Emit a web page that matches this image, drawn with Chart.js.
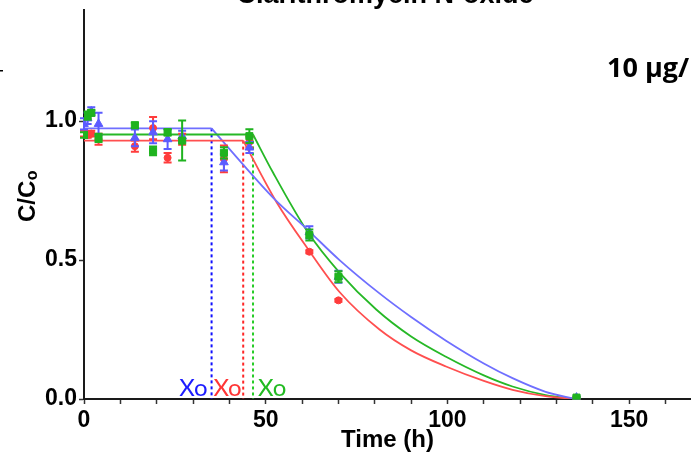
<!DOCTYPE html>
<html>
<head>
<meta charset="utf-8">
<script src="https://cdn.jsdelivr.net/npm/chart.js@4.4.0/dist/chart.umd.min.js"></script>
<style>
html, body { margin: 0; padding: 0; background: #fff; overflow: hidden; }
#bloqueGrafico { position: relative; width: 691px; height: 456px; }
</style>
</head>
<body>
<div id="bloqueGrafico"><canvas id="chartDegradacion"></canvas></div>
<script>
//Textos del grafico
var titulo = 'Clarithromycin N-oxide';
var concentracion = '10 µg/L';
var tituloEjeX = 'Time (h)';

//Tiempos de muestreo (h)
var tiempos = [0, 1, 2, 4, 14, 19, 23, 27, 38.5, 45.5, 62, 70, 135.5];

//Medias y desviaciones de C/Co de cada serie
var mediaAzul  = [0.99, 1.01, 1.035, 0.99, 0.94, 0.96, 0.935, 0.945, 0.852, 0.905, 0.60, 0.44, 0.005];
var errorAzul  = [0.02, 0.02, 0.015, 0.04, 0.03, 0.04, 0.035, 0.02, 0.03, 0.02, 0.022, 0.022, 0.004];
var mediaRoja  = [0.955, 0.95, 0.955, 0.935, 0.91, 0.975, 0.868, 0.935, 0.864, 0.925, 0.53, 0.355, 0.003];
var errorRoja  = [0.01, 0.01, 0.01, 0.02, 0.02, 0.04, 0.017, 0.02, 0.048, 0.02, 0.005, 0.005, 0.003];
var mediaVerde = [0.95, 1.02, 1.03, 0.94, 0.985, 0.893, 0.96, 0.93, 0.886, 0.946, 0.59, 0.44, 0.005];
var errorVerde = [0.01, 0.015, 0.01, 0.015, 0.01, 0.016, 0.012, 0.072, 0.02, 0.025, 0.02, 0.02, 0.004];

//Tiempo de latencia Xo y meseta de cada serie (azul, roja, verde)
var xo = [35.1, 43.8, 46.5];
var meseta = [0.974, 0.93, 0.952];

//Curvas ajustadas a partir de Xo
var curvaAzulT  = [35.1, 43, 52, 61.6, 70.3, 81.3, 90, 99.6, 110, 117.9, 127, 135.3];
var curvaAzulC  = [0.974, 0.855, 0.725, 0.608, 0.50, 0.38, 0.295, 0.21, 0.128, 0.075, 0.026, 0];
var curvaRojaT  = [43.8, 52.9, 61.6, 70.3, 81.3, 90, 99.6, 110, 117.9, 127, 135.3];
var curvaRojaC  = [0.93, 0.71, 0.54, 0.385, 0.25, 0.175, 0.117, 0.065, 0.033, 0.01, 0];
var curvaVerdeT = [46.5, 52, 61.6, 70.3, 80.4, 90, 99.6, 110, 117.9, 127, 135.3];
var curvaVerdeC = [0.952, 0.815, 0.60, 0.455, 0.322, 0.225, 0.152, 0.085, 0.045, 0.014, 0];

//Ticks del eje y
var ticksY = [0, 0.5, 1.0];

var colores = {
    azul:  { punto: '#5b5bff', linea: '#6f6fff', xo: '#1c1cff' },
    roja:  { punto: '#ff3c3c', linea: '#ff4f4f', xo: '#ff3535' },
    verde: { punto: '#1fb31f', linea: '#26b826', xo: '#22bb22' }
};
var fuenteEjes = '"Liberation Sans", Arial, sans-serif';

function unir(xs, ys){
    return xs.map(function(x, i){ return { x: x, y: ys[i] }; });
}

function serie(nombre, medias, errores, color, estilo, radio){
    return {
        type: 'scatter',
        label: nombre,
        data: unir(tiempos, medias),
        errores: errores,
        backgroundColor: color,
        borderColor: color,
        pointStyle: estilo,
        pointRadius: radio,
        pointHoverRadius: radio
    };
}

function curva(nombre, xs, ys, color){
    return {
        type: 'line',
        label: nombre,
        data: unir(xs, ys),
        borderColor: color,
        borderWidth: 1.8,
        pointRadius: 0,
        fill: false,
        cubicInterpolationMode: 'monotone'
    };
}

function punteada(nombre, i, color){
    return {
        type: 'line',
        label: nombre,
        data: [{ x: xo[i], y: meseta[i] }, { x: xo[i], y: 0 }],
        borderColor: color,
        borderWidth: 2,
        borderDash: [3, 3],
        pointRadius: 0,
        fill: false
    };
}

//Barras de error, titulos y etiquetas Xo
var anotaciones = {
    id: 'anotaciones',
    beforeDatasetDraw: function(chart, args){
        var ds = chart.data.datasets[args.index];
        if(!ds.errores) return;
        var ctx = chart.ctx, sx = chart.scales.x, sy = chart.scales.y;
        ctx.save();
        ctx.strokeStyle = ds.borderColor;
        ctx.lineWidth = 2;
        ds.data.forEach(function(p, i){
            var e = ds.errores[i];
            var px = sx.getPixelForValue(p.x);
            var y1 = sy.getPixelForValue(p.y + e);
            var y2 = sy.getPixelForValue(p.y - e);
            ctx.beginPath();
            ctx.moveTo(px, y1); ctx.lineTo(px, y2);
            ctx.moveTo(px - 4, y1); ctx.lineTo(px + 4, y1);
            ctx.moveTo(px - 4, y2); ctx.lineTo(px + 4, y2);
            ctx.stroke();
        });
        ctx.restore();
    },
    afterDraw: function(chart){
        var ctx = chart.ctx, sx = chart.scales.x;
        ctx.save();
        ctx.fillStyle = '#000';
        ctx.textBaseline = 'alphabetic';

        //Titulo superior
        ctx.font = 'bold 27px ' + fuenteEjes;
        ctx.textAlign = 'center';
        ctx.fillText(titulo, 385, 3);

        //Concentracion
        ctx.font = 'bold 27px "Open Sans", sans-serif';
        ctx.textAlign = 'left';
        ctx.fillText(concentracion, 607, 77);

        //Marca suelta del panel vecino
        ctx.fillRect(0, 70, 3, 1.5);

        //Etiquetas Xo junto a cada linea punteada
        ctx.font = '24px Lato, sans-serif';
        ctx.fillStyle = colores.azul.xo;
        ctx.textAlign = 'right';
        ctx.fillText('Xo', sx.getPixelForValue(xo[0]) - 4, 396);
        ctx.fillStyle = colores.roja.xo;
        ctx.fillText('Xo', sx.getPixelForValue(xo[1]) - 1.5, 396);
        ctx.fillStyle = colores.verde.xo;
        ctx.textAlign = 'left';
        ctx.fillText('Xo', sx.getPixelForValue(xo[2]) + 5, 396);

        //Titulo eje y con subindice
        ctx.fillStyle = '#000';
        ctx.translate(35, 222);
        ctx.rotate(-Math.PI / 2);
        ctx.font = 'bold 24px ' + fuenteEjes;
        ctx.fillText('C/C', 0, 0);
        var w = ctx.measureText('C/C').width;
        ctx.font = 'bold 16px ' + fuenteEjes;
        ctx.fillText('o', w + 0.5, 2);
        ctx.restore();
    }
};

var ctx = document.getElementById('chartDegradacion').getContext('2d');
var myChart = new Chart(ctx, {
    type: 'scatter',
    data: {
        datasets: [
            serie('Verde', mediaVerde, errorVerde, colores.verde.punto, 'rect', 5),
            serie('Azul', mediaAzul, errorAzul, colores.azul.punto, 'triangle', 5),
            serie('Roja', mediaRoja, errorRoja, colores.roja.punto, 'circle', 3.5),
            curva('Meseta azul', [0, xo[0]], [meseta[0], meseta[0]], colores.azul.linea),
            curva('Meseta roja', [0, xo[1]], [meseta[1], meseta[1]], colores.roja.linea),
            curva('Meseta verde', [0, xo[2]], [meseta[2], meseta[2]], colores.verde.linea),
            curva('Ajuste azul', curvaAzulT, curvaAzulC, colores.azul.linea),
            curva('Ajuste rojo', curvaRojaT, curvaRojaC, colores.roja.linea),
            curva('Ajuste verde', curvaVerdeT, curvaVerdeC, colores.verde.linea),
            punteada('Xo azul', 0, '#1010ff'),
            punteada('Xo rojo', 1, '#ff2626'),
            punteada('Xo verde', 2, '#26cc26')
        ]
    },
    options: {
        responsive: true,
        maintainAspectRatio: false,
        animation: false,
        layout: { autoPadding: false, padding: { top: 10, left: 0, right: 0, bottom: 0 } },
        plugins: {
            legend: { display: false },
            tooltip: { enabled: false }
        },
        scales: {
            x: {
                type: 'linear',
                min: 0,
                max: 167,
                afterFit: function(s){ s.height = 57; s.paddingLeft = 0; s.paddingRight = 0; },
                border: { color: '#1a1a1a', width: 2 },
                grid: { drawOnChartArea: false, tickLength: 5, tickColor: '#333', tickWidth: 1.5 },
                ticks: {
                    stepSize: 10,
                    autoSkip: false,
                    includeBounds: false,
                    maxRotation: 0,
                    padding: 3,
                    color: '#000',
                    font: { family: fuenteEjes, size: 23, weight: 'bold' },
                    callback: function(v){ return v % 50 === 0 ? v : ''; }
                },
                title: {
                    display: true,
                    text: tituloEjeX,
                    color: '#000',
                    font: { family: fuenteEjes, size: 24, weight: 'bold' },
                    padding: { top: 0, bottom: 1 }
                }
            },
            y: {
                min: 0,
                max: 1.4,
                afterFit: function(s){ s.width = 84; s.paddingTop = 0; s.paddingBottom = 0; },
                afterBuildTicks: function(s){ s.ticks = ticksY.map(function(v){ return { value: v }; }); },
                border: { color: '#1a1a1a', width: 2 },
                grid: { drawOnChartArea: false, tickLength: 5, tickColor: '#333', tickWidth: 1.5 },
                ticks: {
                    padding: 2,
                    color: '#000',
                    font: { family: fuenteEjes, size: 23, weight: 'bold' },
                    callback: function(v){ return v.toFixed(1); }
                }
            }
        }
    },
    plugins: [anotaciones]
});
</script>
</body>
</html>
